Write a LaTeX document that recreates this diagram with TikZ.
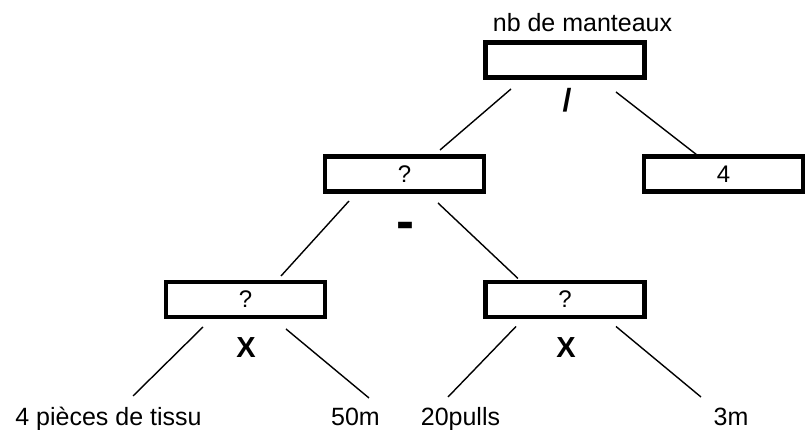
\documentclass[tikz,border=0pt]{standalone}
\usepackage{fontspec}
\setmainfont{Liberation Sans}
\usetikzlibrary{calc}
\begin{document}
\begin{tikzpicture}[x=1pt,y=1pt,
  valbox/.style={draw=black, line width=4.5pt, minimum width=159pt, minimum height=35pt,
     inner sep=0pt, outer sep=0pt, font=\fontsize{24}{24}\selectfont},
  lbl/.style={inner sep=0pt, anchor=base, font=\fontsize{25}{25}\selectfont},
  oper/.style={inner sep=0pt, font=\bfseries},
  conn/.style={line width=1.4pt}]
\useasboundingbox (0,0) rectangle (807,430);
% boxes
\node[valbox] (top) at (565,370) {};
\node[valbox] (mid) at (404.5,256) {?};
\node[valbox] (four) at (723.5,256) {4};
\node[valbox] (bl) at (245.5,130.5) {?};
\node[valbox] (br) at (565,130.5) {?};
% labels
\node[lbl] (title) at (582.5,398) {nb de manteaux};
\node[lbl] (l1) at (108.5,4) {4 pièces de tissu};
\node[lbl] (l2) at (355.5,4) {50m};
\node[lbl] (l3) at (460.5,4) {20pulls};
\node[lbl] (l4) at (731,4) {3m};
% operators
\node[oper, font=\fontsize{32}{32}\selectfont\bfseries] (div) at (567,329.5) {/};
\node[oper, font=\fontsize{54}{54}\selectfont\bfseries] (minus) at (405,199) {-};
\node[oper, font=\fontsize{29}{29}\selectfont\bfseries] (mul1) at (246,82.5) {X};
\node[oper, font=\fontsize{29}{29}\selectfont\bfseries] (mul2) at (566,82.5) {X};
% connectors
\draw[conn] ($(top.center)+(-54,-29)$) -- ($(mid.center)+(35.5,24)$);
\draw[conn] ($(top.center)+(51,-32)$) -- ($(four.center)+(-26.5,19)$);
\draw[conn] ($(mid.center)+(-55.5,-27)$) -- ($(bl.center)+(35.5,23.5)$);
\draw[conn] ($(mid.center)+(33.5,-29)$) -- ($(br.center)+(-47,21)$);
\draw[conn] ($(bl.center)+(-42.5,-27.5)$) -- ($(l1.base)+(24.5,30)$);
\draw[conn] ($(bl.center)+(40.5,-29.5)$) -- ($(l2.base)+(13.5,28)$);
\draw[conn] ($(br.center)+(-49,-27)$) -- ($(l3.base)+(-12.5,29)$);
\draw[conn] ($(br.center)+(51,-27)$) -- ($(l4.base)+(-30,29)$);
\end{tikzpicture}
\end{document}
